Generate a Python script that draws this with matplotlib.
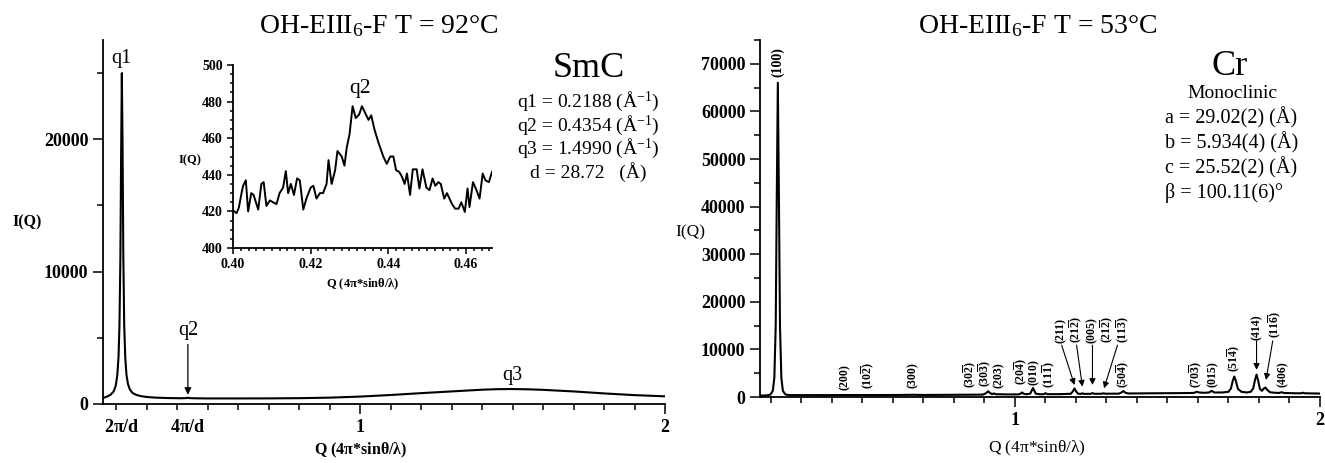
import matplotlib
matplotlib.use("Agg")
import matplotlib.pyplot as plt
from matplotlib.ticker import MultipleLocator, FixedLocator

plt.rcParams['font.family'] = ['Liberation Serif', 'DejaVu Serif']
plt.rcParams['mathtext.fontset'] = 'custom'
plt.rcParams['mathtext.rm'] = 'Liberation Serif'
plt.rcParams['mathtext.bf'] = 'Liberation Serif:bold'
plt.rcParams['mathtext.default'] = 'regular'

# SmC pattern, T = 92 C
smc_q = [0.157, 0.170, 0.182, 0.192, 0.199, 0.204, 0.208, 0.211, 0.214, 0.2165,
         0.2188, 0.2210, 0.2235, 0.2265, 0.230, 0.234, 0.239, 0.245, 0.253, 0.265,
         0.28, 0.30, 0.33, 0.37, 0.41, 0.43, 0.4354, 0.44, 0.46, 0.50,
         0.60, 0.70, 0.80, 0.90, 1.00, 1.10, 1.20, 1.30, 1.40, 1.45,
         1.50, 1.55, 1.60, 1.70, 1.80, 1.90, 2.00]
smc_i = [450, 560, 700, 950, 1400, 2200, 3600, 6000, 11000, 19000,
         25000, 20000, 11500, 6000, 3500, 2200, 1500, 1100, 850, 700,
         600, 530, 480, 450, 435, 445, 470, 445, 430, 420,
         420, 425, 440, 480, 560, 680, 820, 950, 1080, 1120,
         1130, 1110, 1070, 950, 800, 670, 580]

# inset, zoom on q2
ins_q = [0.4000, 0.4009, 0.4015, 0.4022, 0.4026, 0.4033, 0.4039, 0.4047, 0.4053, 0.4065,
         0.4073, 0.4079, 0.4086, 0.4095, 0.4103, 0.4112, 0.4120, 0.4129, 0.4136, 0.4142,
         0.4149, 0.4157, 0.4165, 0.4172, 0.4181, 0.4189, 0.4200, 0.4207, 0.4215, 0.4224,
         0.4232, 0.4241, 0.4246, 0.4254, 0.4263, 0.4269, 0.4280, 0.4287, 0.4293, 0.4300,
         0.4308, 0.4316, 0.4325, 0.4332, 0.4341, 0.4349, 0.4356, 0.4364, 0.4374, 0.4387,
         0.4396, 0.4405, 0.4413, 0.4420, 0.4428, 0.4435, 0.4442, 0.4448, 0.4456, 0.4463,
         0.4473, 0.4480, 0.4488, 0.4498, 0.4506, 0.4514, 0.4521, 0.4529, 0.4535, 0.4544,
         0.4551, 0.4564, 0.4572, 0.4581, 0.4588, 0.4597, 0.4604, 0.4609, 0.4618, 0.4627,
         0.4635, 0.4643, 0.4650, 0.4659, 0.4667]
ins_i = [420.6, 419, 422, 430, 434, 437, 420, 430, 429, 421,
         435, 436, 423, 426, 425, 424, 430, 433, 442, 430,
         435, 429, 438, 437, 421, 427, 433, 434, 427, 430,
         430, 435, 448, 435, 442.5, 453, 450, 445, 455, 462,
         477.5, 471, 473, 477.5, 473.5, 470, 472.5, 465, 458, 450,
         446, 450, 450, 442.5, 441.6, 439, 435, 440.7, 429, 443,
         443, 432.5, 443, 433, 431.6, 438, 434, 436, 435, 427,
         430, 424, 421.5, 421.5, 425, 419.7, 432.5, 422.4, 436, 431.6,
         427, 440.7, 437, 436, 441.6]

# Cr pattern, T = 53 C
cr_q = [0.164, 0.185, 0.198, 0.206, 0.211, 0.2155, 0.219, 0.2225, 0.226, 0.2295,
        0.234, 0.239, 0.247, 0.260, 0.300, 0.400, 0.443, 0.500, 0.600, 0.666,
        0.700, 0.800, 0.850, 0.895, 0.905, 0.912, 0.919, 0.925, 0.931, 0.937,
        0.980, 1.012, 1.018, 1.023, 1.028, 1.036, 1.050, 1.059, 1.068, 1.082,
        1.094, 1.100, 1.106, 1.150, 1.183, 1.190, 1.195, 1.200, 1.207, 1.216,
        1.221, 1.226, 1.248, 1.254, 1.260, 1.284, 1.290, 1.296, 1.340, 1.348,
        1.355, 1.362, 1.372, 1.450, 1.550, 1.585, 1.592, 1.597, 1.603, 1.620,
        1.636, 1.645, 1.653, 1.680, 1.700, 1.708, 1.714, 1.719, 1.724, 1.731,
        1.742, 1.760, 1.773, 1.781, 1.787, 1.792, 1.797, 1.803, 1.810, 1.816,
        1.821, 1.827, 1.836, 1.850, 1.866, 1.874, 1.882, 1.920, 1.938, 1.944,
        1.950, 2.000]
cr_i = [300, 330, 500, 1300, 4000, 15000, 42000, 66000, 42000, 15000,
        4000, 1300, 550, 400, 390, 400, 420, 410, 420, 460,
        430, 460, 480, 500, 800, 1200, 800, 600, 750, 580,
        540, 550, 700, 950, 700, 580, 700, 1900, 700, 580,
        580, 800, 600, 600, 680, 1200, 1800, 1200, 680, 650,
        780, 650, 660, 820, 670, 680, 780, 690, 700, 900,
        1250, 900, 740, 780, 820, 850, 1000, 1100, 950, 880,
        950, 1300, 950, 950, 1100, 1800, 3400, 4300, 3400, 1700,
        1100, 950, 1100, 1800, 3600, 4700, 3500, 1700, 1300, 1800,
        2000, 1500, 1000, 900, 850, 1000, 850, 780, 780, 900,
        780, 720]

# reflection labels: text, Q, label bottom I, arrow (start Q, start I, tip Q, tip I)
hkl_text = ['(100)', '(200)', r'(10$\overline{2}$)', '(300)', r'(30$\overline{2}$)',
            r'(30$\overline{3}$)', '(203)', r'(20$\overline{4}$)', '(010)', r'(11$\overline{1}$)',
            '(211)', r'(21$\overline{2}$)', '(005)', r'(21$\overline{2}$)', r'(11$\overline{3}$)',
            r'(50$\overline{4}$)', r'(70$\overline{3}$)', '(015)', r'(51$\overline{4}$)', '(414)',
            r'(11$\overline{6}$)', '(406)']
hkl_q = [0.223, 0.443, 0.518, 0.666, 0.855, 0.904, 0.946, 1.020, 1.061, 1.111,
         1.149, 1.200, 1.252, 1.304, 1.354, 1.356, 1.593, 1.649, 1.718, 1.793,
         1.852, 1.877]
hkl_base = [67200, 1500, 1700, 1900, 1900, 2000, 1900, 2500, 2500, 1900,
            11400, 11400, 11400, 11400, 11400, 1900, 1900, 2100, 5300, 12000,
            12400, 2100]
hkl_arrow = {10: (1.153, 10900, 1.195, 2530),
             11: (1.202, 10900, 1.221, 2170),
             12: (1.254, 10900, 1.254, 2530),
             14: (1.336, 10900, 1.292, 1830),
             19: (1.792, 11800, 1.792, 5700),
             20: (1.845, 11800, 1.823, 3580)}


def style_axes(ax, bold=True, size=12):
    ax.spines['top'].set_visible(False)
    ax.spines['right'].set_visible(False)
    for s in ['left', 'bottom']:
        ax.spines[s].set_linewidth(1.3)
    ax.tick_params(which='both', direction='out', width=1.1)
    ax.tick_params(which='major', length=7)
    ax.tick_params(which='minor', length=4)
    for lab in ax.get_xticklabels() + ax.get_yticklabels():
        lab.set_fontweight('bold' if bold else 'normal')
        lab.set_fontsize(size)


def main():
    W, H = 1325, 463
    fig = plt.figure(figsize=(W / 100, H / 100), dpi=100)

    # ---- left: SmC
    ax = fig.add_axes([103 / W, (H - 404) / H, 562 / W, 364 / H])
    ax.plot(smc_q, smc_i, color='black', lw=1.5)
    ax.set_xlim(0.157, 2.0)
    ax.set_ylim(0, 27500)
    ax.xaxis.set_major_locator(FixedLocator([0.2188, 0.4354, 1, 2]))
    ax.set_xticklabels([r'2$\pi$/d', r'4$\pi$/d', '1', '2'])
    ax.xaxis.set_minor_locator(FixedLocator([i / 10 for i in range(2, 20)]))
    ax.yaxis.set_major_locator(FixedLocator([0, 10000, 20000]))
    ax.yaxis.set_minor_locator(MultipleLocator(5000))
    style_axes(ax, size=13)
    for t in ax.xaxis.get_major_ticks()[:2]:
        t.tick1line.set_visible(False)
    ax.set_xlabel(r'Q (4$\pi$*sin$\theta$/$\lambda$)', fontsize=11.5, fontweight='bold')
    ax.xaxis.set_label_coords(0.459, -0.100)
    ax.text(-0.135, 0.5, 'I(Q)', transform=ax.transAxes, fontsize=11.5,
            fontweight='bold', ha='center', va='center')
    ax.text(0.2188, 25400, 'q1', fontsize=14.5, ha='center', va='bottom')
    ax.text(0.4354, 4800, 'q2', fontsize=14.5, ha='center', va='bottom')
    ax.annotate('', xy=(0.4354, 700), xytext=(0.4354, 4500),
                arrowprops=dict(arrowstyle='-|>', color='black', lw=0.9,
                                mutation_scale=10, shrinkA=0, shrinkB=0))
    ax.text(1.50, 1400, 'q3', fontsize=14.5, ha='center', va='bottom')

    fig.text(589 / W, 1 - 77 / H, 'SmC', fontsize=26, ha='center', va='baseline')
    smc_lines = [r'q1 = 0.2188 (Å$^{-1}$)', r'q2 = 0.4354 (Å$^{-1}$)',
                 r'q3 = 1.4990 (Å$^{-1}$)', 'd = 28.72   (Å)']
    for k, s in enumerate(smc_lines):
        fig.text(588 / W, 1 - (107 + 23.5 * k) / H, s, fontsize=14,
                 ha='center', va='baseline')

    # inset
    ins = fig.add_axes([233 / W, (H - 248) / H, 259 / W, 183 / H])
    ins.plot(ins_q, ins_i, color='black', lw=1.4)
    ins.set_xlim(0.40, 0.4667)
    ins.set_ylim(400, 500)
    ins.xaxis.set_major_locator(FixedLocator([0.40, 0.42, 0.44, 0.46]))
    ins.xaxis.set_minor_locator(MultipleLocator(0.002))
    ins.yaxis.set_major_locator(MultipleLocator(20))
    ins.yaxis.set_minor_locator(MultipleLocator(5))
    ins.set_xticklabels(['0.40', '0.42', '0.44', '0.46'])
    style_axes(ins, size=10)
    ins.tick_params(which='major', length=4)
    ins.tick_params(which='minor', length=2)
    ins.set_xlabel(r'Q (4$\pi$*sin$\theta$/$\lambda$)', fontsize=9, fontweight='bold')
    ins.text(-0.165, 0.48, 'I(Q)', transform=ins.transAxes, fontsize=9,
             fontweight='bold', ha='center', va='center')
    ins.text(0.4326, 487, 'q2', fontsize=15.5, ha='center', va='center')

    fig.text(379 / W, 1 - 33 / H, r'OH-EIII$_6$-F T = 92°C', fontsize=20,
             ha='center', va='baseline')

    # ---- right: Cr
    ax2 = fig.add_axes([760 / W, (H - 397) / H, 560 / W, 357 / H])
    ax2.plot(cr_q, cr_i, color='black', lw=1.5)
    ax2.set_xlim(0.164, 2.0)
    ax2.set_ylim(0, 75000)
    ax2.xaxis.set_major_locator(FixedLocator([1, 2]))
    ax2.xaxis.set_minor_locator(FixedLocator([i / 10 for i in range(2, 20)]))
    ax2.yaxis.set_major_locator(MultipleLocator(10000))
    ax2.yaxis.set_minor_locator(MultipleLocator(5000))
    ax2.set_xticklabels(['1', '2'])
    style_axes(ax2, size=13)
    ax2.set_xlabel(r'Q (4$\pi$*sin$\theta$/$\lambda$)', fontsize=12.5)
    ax2.xaxis.set_label_coords(0.495, -0.118)
    ax2.text(-0.125, 0.46, 'I(Q)', transform=ax2.transAxes, fontsize=12.5,
             ha='center', va='center')

    for k, s in enumerate(hkl_text):
        ax2.text(hkl_q[k], hkl_base[k], s, rotation=90, fontsize=10 if k == 0 else 8.5,
                 fontweight='bold', ha='center', va='bottom')
    for k, (q0, i0, q1, i1) in hkl_arrow.items():
        ax2.annotate('', xy=(q1, i1), xytext=(q0, i0),
                     arrowprops=dict(arrowstyle='-|>', color='black', lw=0.8,
                                     mutation_scale=9, shrinkA=0, shrinkB=0))

    fig.text(1230 / W, 1 - 75 / H, 'Cr', fontsize=26, ha='center', va='baseline')
    fig.text(1232 / W, 1 - 98 / H, 'Monoclinic', fontsize=14, ha='center', va='baseline')
    cr_lines = ['a = 29.02(2) (Å)', 'b = 5.934(4) (Å)', 'c = 25.52(2) (Å)',
                'β = 100.11(6)°']
    for k, s in enumerate(cr_lines):
        fig.text(1165 / W, 1 - (123 + 25 * k) / H, s, fontsize=14.5,
                 ha='left', va='baseline')

    fig.text(1038 / W, 1 - 33 / H, r'OH-EIII$_6$-F T = 53°C', fontsize=20,
             ha='center', va='baseline')

    fig.savefig('out.png', dpi=100)


if __name__ == "__main__":
    main()
